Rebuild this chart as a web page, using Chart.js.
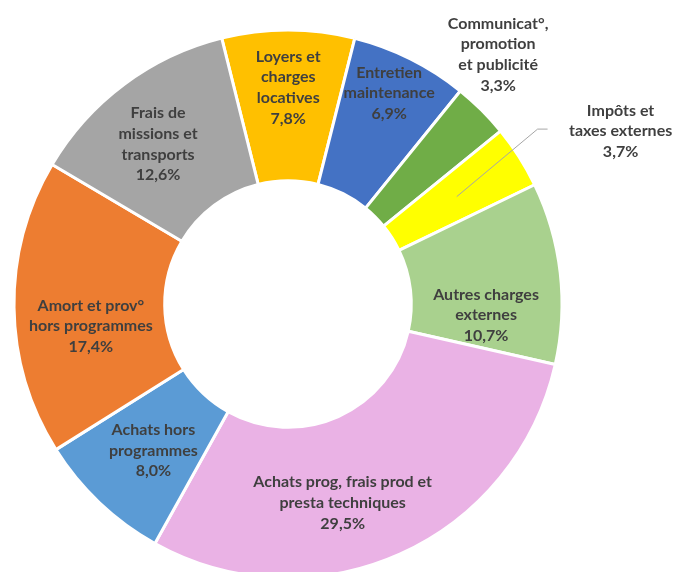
<!DOCTYPE html>
<html>
<head>
<meta charset="utf-8">
<script src="https://cdn.jsdelivr.net/npm/chart.js@4/dist/chart.umd.min.js"></script>
<style>
  html, body { margin: 0; padding: 0; background: #fff; overflow: hidden; }
  #wrap { width: 673px; height: 608px; }
</style>
</head>
<body>
<div id="wrap"><canvas id="graph" width="673" height="608"></canvas></div>
<script>
var categories = [
  'Loyers et\ncharges\nlocatives',
  'Entretien\nmaintenance',
  'Communicat°,\npromotion\net publicité',
  'Impôts et\ntaxes externes',
  'Autres charges\nexternes',
  'Achats prog, frais prod et\npresta techniques',
  'Achats hors\nprogrammes',
  'Amort et prov°\nhors programmes',
  'Frais de\nmissions et\ntransports'
];
var values = [7.8, 6.9, 3.3, 3.7, 10.7, 29.5, 8.0, 17.4, 12.6];
var colors = ['#FFC000', '#4472C4', '#70AD47', '#FFFF00', '#A9D18E', '#EAB2E5', '#5B9BD5', '#ED7D31', '#A5A5A5'];

// label placement: angle shift (deg) from slice middle, distance as share of outer radius
var labelPos = [
  { da: 0, rf: 0.79 },
  { da: -0.9, rf: 0.853 },
  { da: -4.8, rf: 1.19 },
  { da: 5, rf: 1.368, leader: true },
  { da: 9.8, rf: 0.724 },
  { da: 8.7, rf: 0.752 },
  { da: -0.9, rf: 0.726 },
  { da: -5.7, rf: 0.724 },
  { da: -2.4, rf: 0.752 }
];

var labelPlugin = {
  id: 'sliceLabels',
  afterDraw: function (chart) {
    var c = chart.ctx;
    var arcs = chart.getDatasetMeta(0).data;
    c.save();
    c.font = 'bold 16px Lato';
    c.fillStyle = '#3f3f3f';
    c.textAlign = 'center';
    c.textBaseline = 'middle';
    var lh = 20.7;
    arcs.forEach(function (arc, i) {
      var p = labelPos[i];
      var mid = (arc.startAngle + arc.endAngle) / 2;
      var a = mid + p.da * Math.PI / 180;
      var r = arc.outerRadius * p.rf;
      var x = arc.x + r * Math.cos(a);
      var y = arc.y + r * Math.sin(a);
      var lines = categories[i].split('\n');
      lines.push(values[i].toFixed(1).replace('.', ',') + '%');
      var y0 = y - (lines.length - 1) * lh / 2;
      lines.forEach(function (t, k) { c.fillText(t, x, y0 + k * lh); });
      if (p.leader) {
        var rs = arc.outerRadius * 0.73;
        var sx = arc.x + rs * Math.cos(mid), sy = arc.y + rs * Math.sin(mid);
        var ex = x - 73, ey = y - 2;
        c.strokeStyle = '#A6A6A6';
        c.lineWidth = 1;
        c.beginPath();
        c.moveTo(sx, sy);
        c.lineTo(ex - 10, ey);
        c.lineTo(ex, ey);
        c.stroke();
      }
    });
    c.restore();
  }
};

var config = {
  type: 'doughnut',
  data: {
    labels: categories,
    datasets: [{
      data: values,
      backgroundColor: colors,
      borderColor: '#ffffff',
      borderWidth: 3
    }]
  },
  options: {
    responsive: false,
    animation: false,
    rotation: -14,
    radius: 274,
    cutout: '45%',
    layout: { padding: { left: 0, right: 97, top: 0, bottom: 0 } },
    plugins: {
      legend: { display: false },
      tooltip: { enabled: false }
    }
  },
  plugins: [labelPlugin]
};

var myDoughnutChart = new Chart(document.getElementById('graph'), config);
</script>
</body>
</html>
